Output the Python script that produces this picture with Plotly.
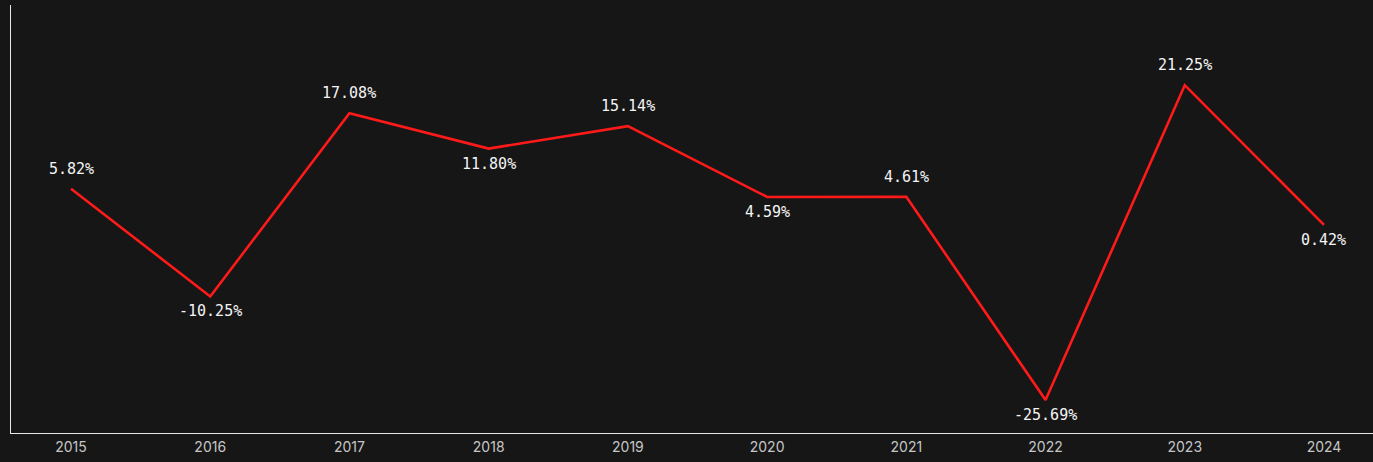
import plotly.graph_objects as go

years = ["2015", "2016", "2017", "2018", "2019", "2020", "2021", "2022", "2023", "2024"]
returns = [5.82, -10.25, 17.08, 11.80, 15.14, 4.59, 4.61, -25.69, 21.25, 0.42]
labels = [f"{v:.2f}%" for v in returns]

xs = list(range(len(years)))

fig = go.Figure()
fig.add_trace(go.Scatter(
    x=xs, y=returns, mode="lines",
    line=dict(color="#ff1a1a", width=2.6),
    hoverinfo="skip",
))

annotations = []
for i, (v, t) in enumerate(zip(returns, labels)):
    up = i == 0 or v >= returns[i - 1]
    annotations.append(dict(
        x=xs[i], y=v, text=t, showarrow=False,
        xanchor="center", yanchor="middle",
        yshift=20 if up else -15,
        font=dict(family="DejaVu Sans Mono, Liberation Mono, monospace", size=15, color="#f4f4f4"),
    ))

fig.update_layout(
    width=1373, height=462,
    paper_bgcolor="#161616", plot_bgcolor="#161616",
    margin=dict(l=11, r=0, t=5, b=29),
    showlegend=False,
    annotations=annotations,
    xaxis=dict(
        range=[-0.431, 9.352],
        tickmode="array", tickvals=xs, ticktext=years,
        showgrid=False, zeroline=False,
        showline=True, linecolor="#e8e8e8", linewidth=1,
        ticks="", ticklabelstandoff=1,
        tickfont=dict(family="Inter, Roboto, sans-serif", size=14, color="#c6c6c6"),
    ),
    yaxis=dict(
        range=[-30.6, 33.2],
        showgrid=False, zeroline=False, showticklabels=False,
        showline=True, linecolor="#e8e8e8", linewidth=1, ticks="",
    ),
)

fig.write_html("out.html")
